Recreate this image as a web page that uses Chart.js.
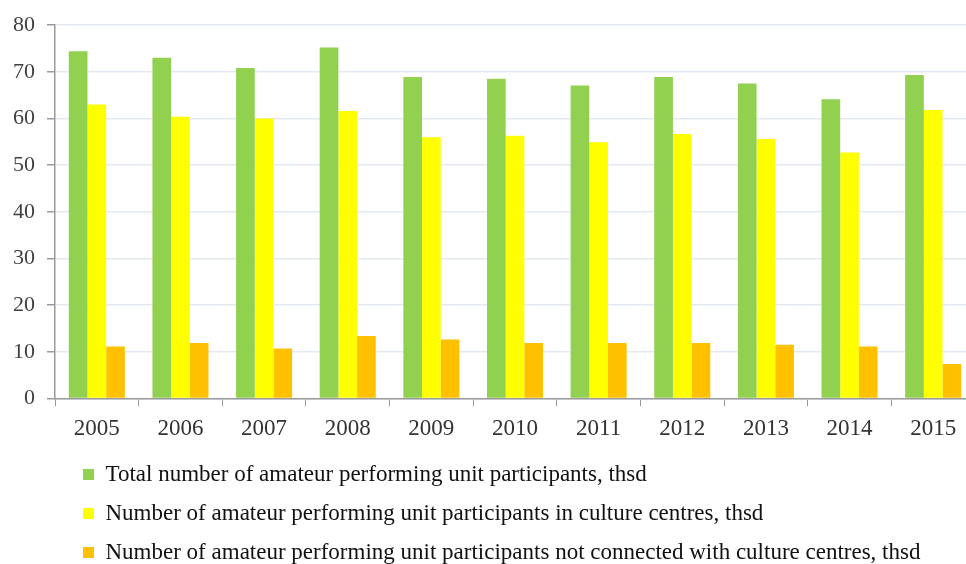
<!DOCTYPE html>
<html>
<head>
<meta charset="utf-8">
<script src="https://cdn.jsdelivr.net/npm/chart.js@4"></script>
<style>
  html, body { margin: 0; padding: 0; background: #fff; overflow: hidden; }
  #wrap { width: 976px; height: 564px; }
</style>
</head>
<body>
<div id="wrap"><canvas id="chart"></canvas></div>
<script>
const years = ['2005', '2006', '2007', '2008', '2009', '2010', '2011', '2012', '2013', '2014', '2015']
const totalParticipants = [74.4, 73.0, 70.8, 75.2, 68.9, 68.5, 67.1, 68.9, 67.5, 64.1, 69.3]
const inCultureCentres = [63.0, 60.4, 60.0, 61.6, 56.0, 56.3, 54.9, 56.7, 55.6, 52.7, 61.8]
const notConnected = [11.1, 11.9, 10.7, 13.4, 12.6, 11.9, 11.9, 11.9, 11.5, 11.1, 7.4]
const seriesNames = [
  'Total number of amateur performing unit participants, thsd',
  'Number of amateur performing unit participants in culture centres, thsd',
  'Number of amateur performing unit participants not connected with culture centres, thsd'
]
const yTicks = [0, 10, 20, 30, 40, 50, 60, 70, 80]

const serif = "'Liberation Serif', 'Times New Roman', serif"

// move the legend block so it starts under the plot like the original
const legendShift = {
  id: 'legendShift',
  beforeDraw(chart) {
    chart.legend.left = 67
    chart.legend.top = 447
  }
}

function start() {
  const ctx = document.getElementById('chart').getContext('2d')
  new Chart(ctx, {
    type: 'bar',
    data: {
      labels: years,
      datasets: [
        { label: seriesNames[0], data: totalParticipants, backgroundColor: '#92D050' },
        { label: seriesNames[1], data: inCultureCentres, backgroundColor: '#FFFF00' },
        { label: seriesNames[2], data: notConnected, backgroundColor: '#FFC000' }
      ]
    },
    options: {
      responsive: true,
      maintainAspectRatio: false,
      animation: false,
      layout: { padding: { top: 17, left: 1, right: 1, bottom: 0 } },
      datasets: { bar: { categoryPercentage: 0.67, barPercentage: 1.0 } },
      scales: {
        x: {
          grid: { display: true, drawOnChartArea: false, offset: true, color: '#9a9a9a', tickLength: 8 },
          border: { color: '#9a9a9a', width: 1.5 },
          ticks: { color: '#333', padding: 9, font: { family: serif, size: 23 } }
        },
        y: {
          min: 0,
          max: 80,
          afterBuildTicks: axis => { axis.ticks = yTicks.map(v => ({ value: v })) },
          grid: { color: '#E3E9F3', lineWidth: 1.5, tickColor: '#9a9a9a', tickLength: 8 },
          border: { color: '#9a9a9a', width: 1.5 },
          ticks: { color: '#404040', padding: 12, font: { family: serif, size: 22 } }
        }
      },
      plugins: {
        tooltip: { enabled: false },
        legend: {
          position: 'bottom',
          align: 'start',
          maxHeight: 112,
          labels: {
            boxWidth: 11,
            boxHeight: 11,
            padding: 16,
            color: '#111',
            font: { family: serif, size: 23 }
          }
        }
      }
    },
    plugins: [legendShift]
  })
}

document.addEventListener('DOMContentLoaded', start)
</script>
</body>
</html>
